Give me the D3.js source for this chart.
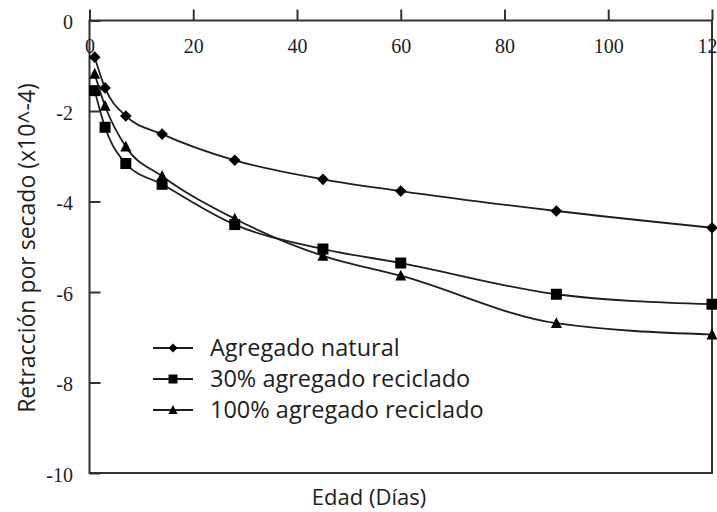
<!DOCTYPE html>
<html><head><meta charset="utf-8">
<script src="https://cdn.jsdelivr.net/npm/d3@7"></script>
<style>body{margin:0;background:#fff}svg{display:block}</style>
</head><body><svg id="c" width="717" height="512"></svg>
<script>
const days = [1, 3, 7, 14, 28, 45, 60, 90, 120];
const natural = [-0.81, -1.49, -2.11, -2.51, -3.09, -3.51, -3.77, -4.21, -4.58];
const rec30 = [-1.55, -2.36, -3.16, -3.62, -4.51, -5.05, -5.36, -6.05, -6.27];
const rec100 = [-1.18, -1.89, -2.79, -3.44, -4.38, -5.20, -5.64, -6.69, -6.94];
const seriesNames = ["Agregado natural", "30% agregado reciclado", "100% agregado reciclado"];
const xTicks = [0, 20, 40, 60, 80, 100, 120];
const yTicks = [0, -2, -4, -6, -8, -10];
const xTitle = "Edad (Días)";
const yTitle = "Retracción por secado (x10^-4)";

const svg = d3.select("#c");
const L = 89.5, R = 712, T = 20.5, B = 473;
const x = d3.scaleLinear().domain([0, 120]).range([L, R]);
const y = d3.scaleLinear().domain([-10, 0]).range([B, T]);
const ink = "#1e1e1e";
const serif = "'Liberation Serif', 'Times New Roman', 'DejaVu Serif', serif";
const sans = "'Open Sans', 'Noto Sans', sans-serif";

// frame
svg.append("rect").attr("x", L).attr("y", T).attr("width", R - L).attr("height", B - T)
  .attr("fill", "none").attr("stroke", "#333").attr("stroke-width", 2);

// x axis (top)
const gx = svg.append("g").attr("transform", `translate(0,${T})`)
  .call(d3.axisBottom(x).tickValues(xTicks).tickSize(-11).tickSizeOuter(0).tickPadding(18).tickFormat(d => String(d)));
gx.select(".domain").remove();
gx.attr("font-family", null).attr("font-size", null);
gx.selectAll("line").attr("stroke", "#333").attr("stroke-width", 2);
gx.selectAll("text").style("font-family", serif).style("font-size", "20px").attr("fill", ink);

// y axis (left)
const gy = svg.append("g").attr("transform", `translate(${L},0)`)
  .call(d3.axisLeft(y).tickValues(yTicks).tickSize(-11).tickSizeOuter(0).tickPadding(16.5).tickFormat(d => String(d)));
gy.select(".domain").remove();
gy.attr("font-family", null).attr("font-size", null);
gy.selectAll("line").attr("stroke", "#333").attr("stroke-width", 2);
gy.selectAll("text").style("font-family", serif).style("font-size", "20px").attr("fill", ink).attr("dy", "0.42em");

// titles
svg.append("text").attr("x", 369).attr("y", 505).attr("text-anchor", "middle")
  .style("font-family", sans).style("font-size", "22px").attr("fill", ink).text(xTitle);
svg.append("text").attr("transform", "translate(35,248) rotate(-90)").attr("text-anchor", "middle")
  .style("font-family", sans).style("font-size", "23px").attr("fill", ink).text(yTitle);

// symbols
function diamond(r) { return `M0,${-r}L${r},0L0,${r}L${-r},0Z`; }
function square(r) { return `M${-r},${-r}H${r}V${r}H${-r}Z`; }
function triangle(r) { const h = r * 1.1; return `M0,${-h}L${r},${h * 0.8}L${-r},${h * 0.8}Z`; }
const series = [
  { name: seriesNames[0], vals: natural, sym: diamond, r: 5.8, lr: 4.5 },
  { name: seriesNames[1], vals: rec30, sym: square, r: 5.5, lr: 4.5 },
  { name: seriesNames[2], vals: rec100, sym: triangle, r: 5.5, lr: 4.5 }
];
const line = d3.line().x(d => x(d[0])).y(d => y(d[1])).curve(d3.curveMonotoneX);
series.forEach(s => {
  const pts = days.map((d, i) => [d, s.vals[i]]);
  svg.append("path").attr("d", line(pts)).attr("fill", "none").attr("stroke", ink).attr("stroke-width", 1.8);
  svg.selectAll(null).data(pts).enter().append("path")
    .attr("transform", d => `translate(${x(d[0])},${y(d[1])})`)
    .attr("d", s.sym(s.r)).attr("fill", "#000");
});

// legend
const legY = [348, 379, 410];
series.forEach((s, i) => {
  const g = svg.append("g").attr("transform", `translate(0,${legY[i]})`);
  g.append("line").attr("x1", 153).attr("x2", 193).attr("stroke", ink).attr("stroke-width", 2);
  g.append("path").attr("transform", "translate(173,0)").attr("d", s.sym(s.lr)).attr("fill", "#000");
  g.append("text").attr("x", 210).attr("y", 0).attr("dy", "0.36em").style("font-family", sans)
    .style("font-size", "23.5px").attr("fill", ink).text(s.name);
});
</script></body></html>
